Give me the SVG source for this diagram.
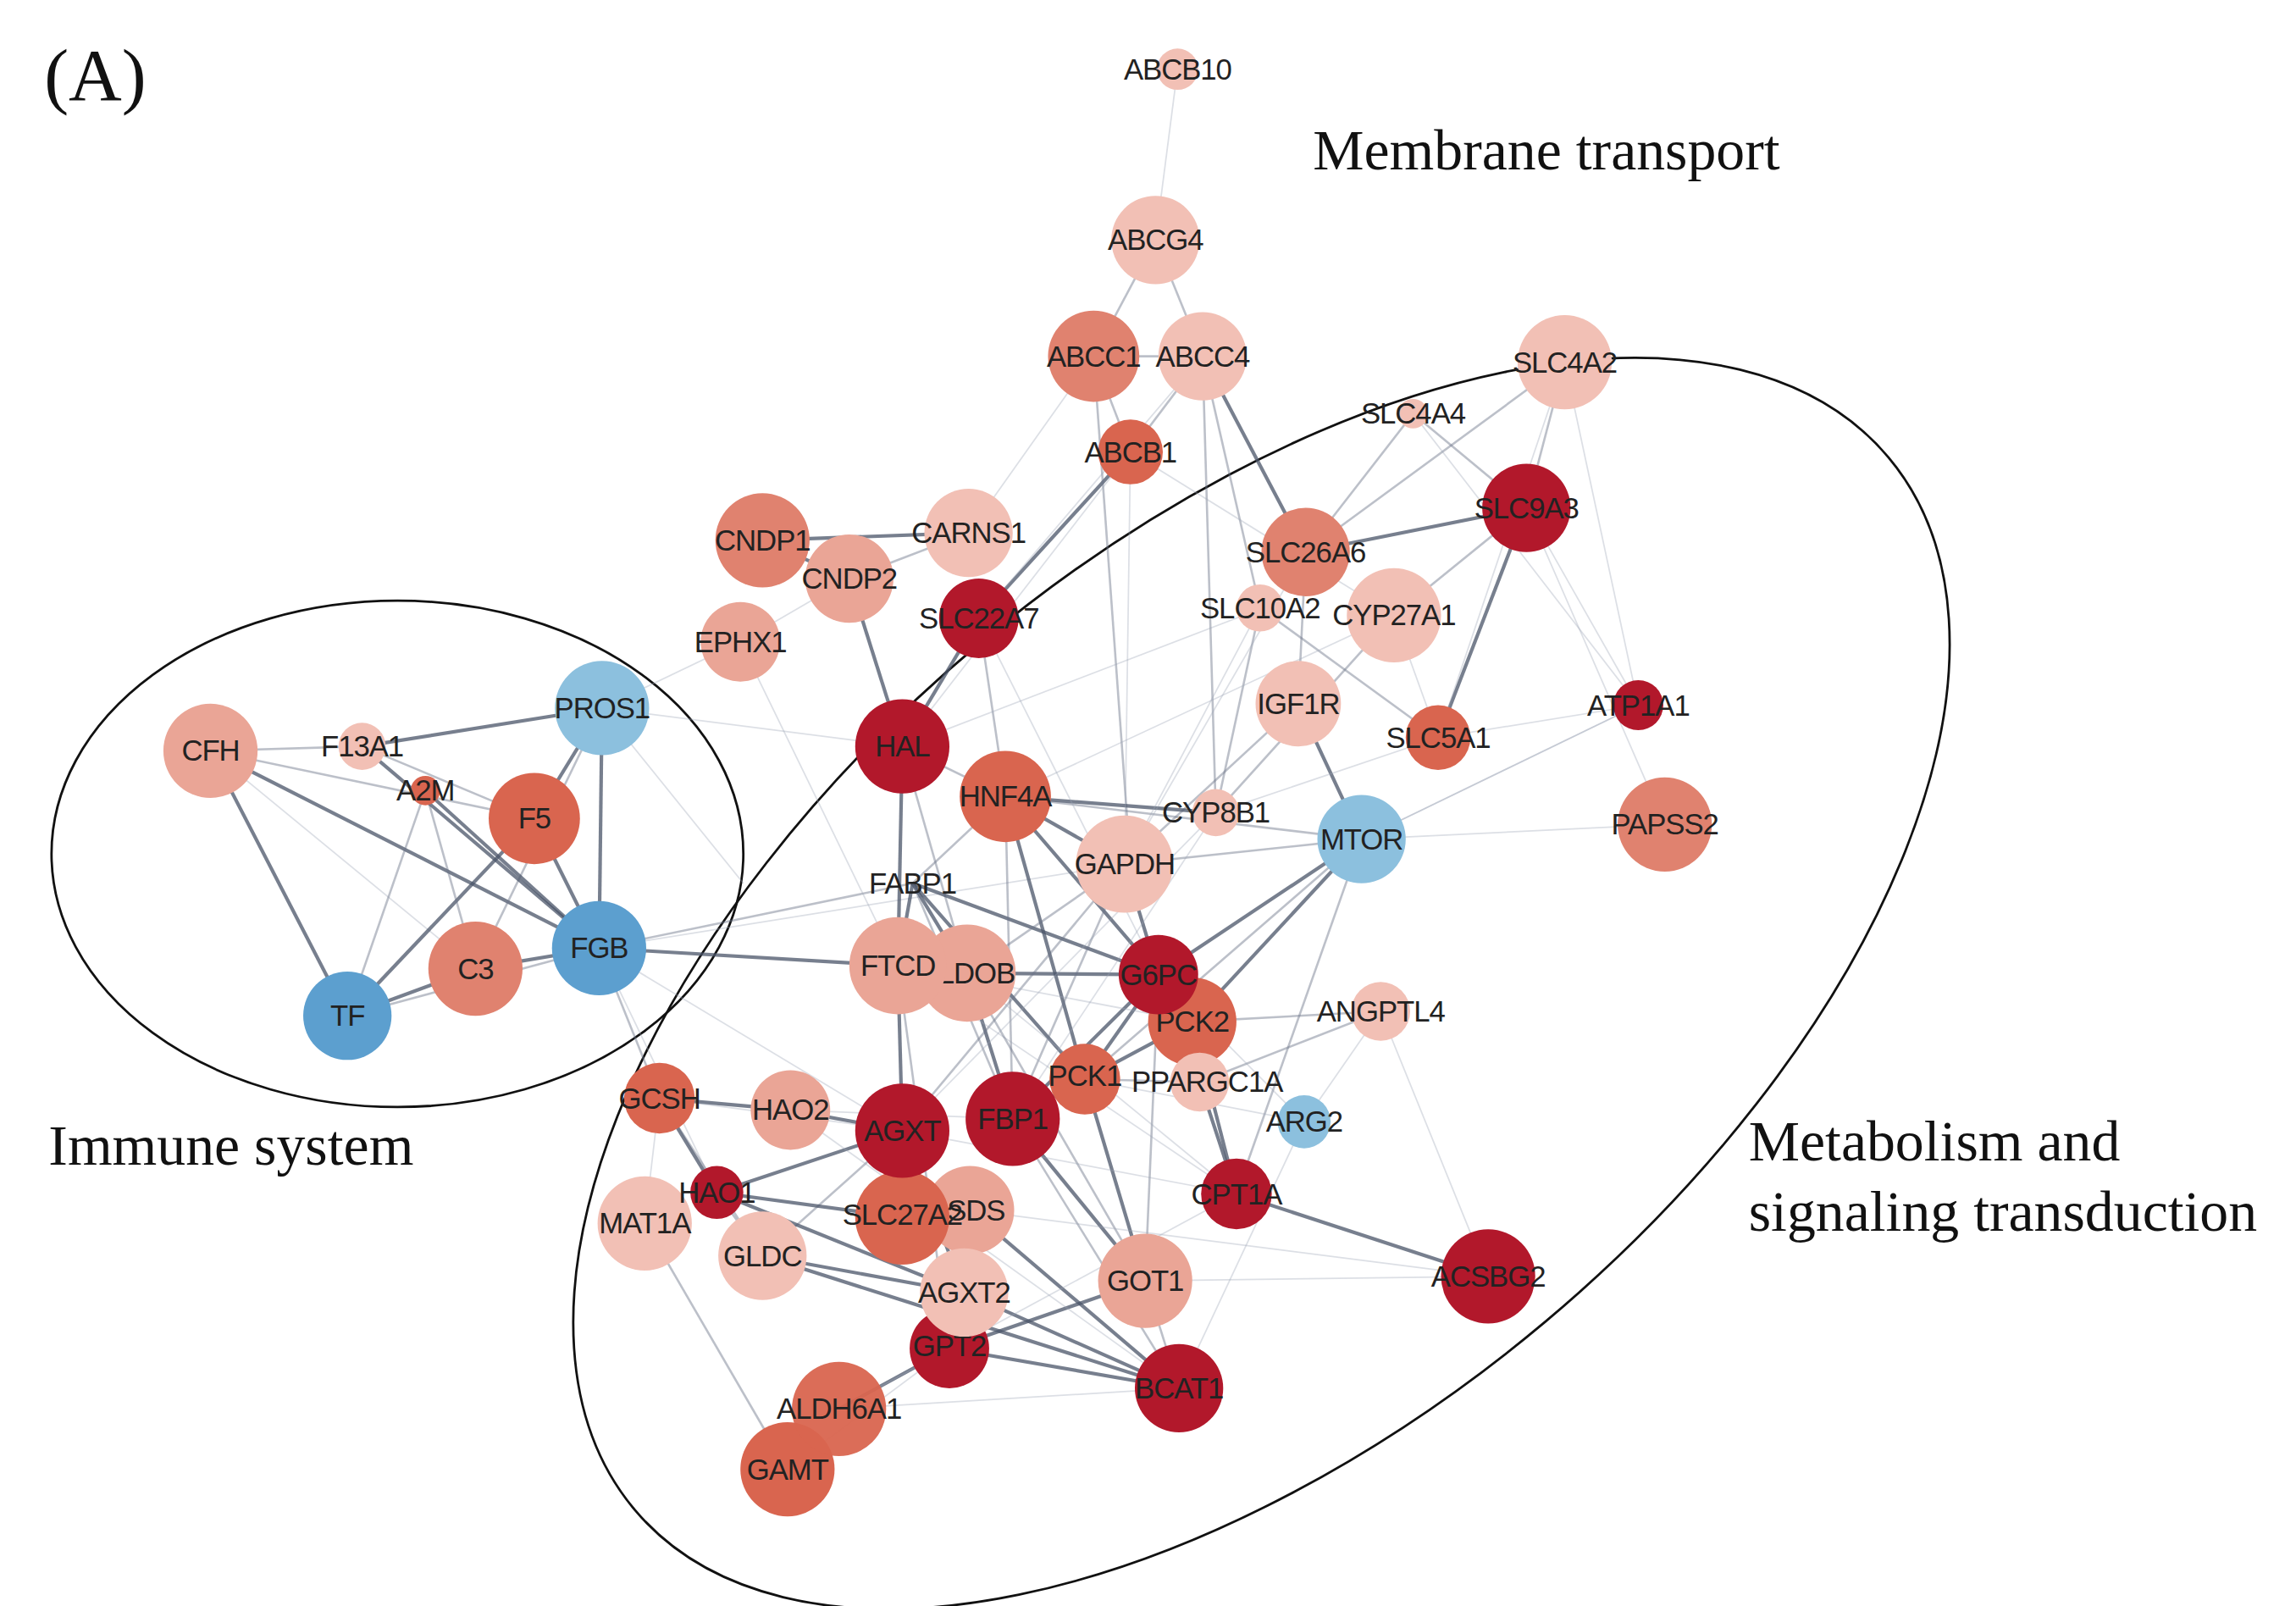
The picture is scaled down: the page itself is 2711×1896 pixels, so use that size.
<svg xmlns="http://www.w3.org/2000/svg" width="2711" height="1896" viewBox="0 0 2711 1896">
<style>
.s{stroke:#4a5468;stroke-opacity:.75;stroke-width:2.4}
.m{stroke:#6a7488;stroke-opacity:.45;stroke-width:1.5}
.l{stroke:#9aa3b5;stroke-opacity:.35;stroke-width:1}
.d{fill:#b2182b}.md{fill:#d9654f}.sa{fill:#e0826f}.lt{fill:#eaa596}.vl{fill:#f2c0b5}.bl{fill:#5c9fcf}.lb{fill:#8cc0de}
text.n{font-family:"Liberation Sans",Arial,sans-serif;font-size:20px;fill:#222;text-anchor:middle;dominant-baseline:central;letter-spacing:-0.6px}
text.t{font-family:"Liberation Serif","Times New Roman",serif;font-size:39px;fill:#111}
.e{fill:none;stroke:#111;stroke-width:1.6}
</style>
<rect width="2711" height="1896" fill="#fff"/>
<g transform="scale(1.738)">
<g id="labels">
<text class="t" x="30" y="68" style="font-size:50px">(A)</text>
<text class="t" x="892" y="115">Membrane transport</text>
<text class="t" x="33" y="791">Immune system</text>
<text class="t" x="1188" y="788">Metabolism and</text>
<text class="t" x="1188" y="836">signaling transduction</text>
</g>
<g id="clusters">
<ellipse class="e" cx="270" cy="580" rx="235" ry="172"/>
<ellipse class="e" cx="857" cy="668" rx="556" ry="300" transform="rotate(-40 857 668)"/>
</g>
<g id="connectors">
<line class="s" x1="143" y1="510" x2="407" y2="644"/>
<line class="s" x1="143" y1="510" x2="236" y2="690"/>
<line class="m" x1="143" y1="510" x2="246" y2="507"/>
<line class="m" x1="143" y1="510" x2="363" y2="556"/>
<line class="l" x1="143" y1="510" x2="323" y2="658"/>
<line class="s" x1="246" y1="507" x2="409" y2="481"/>
<line class="s" x1="409" y1="481" x2="407" y2="644"/>
<line class="s" x1="409" y1="481" x2="363" y2="556"/>
<line class="m" x1="409" y1="481" x2="323" y2="658"/>
<line class="s" x1="363" y1="556" x2="407" y2="644"/>
<line class="s" x1="289" y1="537" x2="407" y2="644"/>
<line class="s" x1="246" y1="507" x2="407" y2="644"/>
<line class="s" x1="323" y1="658" x2="407" y2="644"/>
<line class="s" x1="236" y1="690" x2="323" y2="658"/>
<line class="s" x1="236" y1="690" x2="363" y2="556"/>
<line class="m" x1="236" y1="690" x2="407" y2="644"/>
<line class="m" x1="289" y1="537" x2="236" y2="690"/>
<line class="m" x1="289" y1="537" x2="323" y2="658"/>
<line class="m" x1="246" y1="507" x2="363" y2="556"/>
<line class="l" x1="409" y1="481" x2="503" y2="436"/>
<line class="l" x1="409" y1="481" x2="613" y2="507"/>
<line class="l" x1="409" y1="481" x2="505" y2="600"/>
<line class="s" x1="407" y1="644" x2="610" y2="656"/>
<line class="m" x1="407" y1="644" x2="448" y2="746"/>
<line class="m" x1="407" y1="644" x2="620" y2="600"/>
<line class="l" x1="407" y1="644" x2="487" y2="810"/>
<line class="l" x1="407" y1="644" x2="764" y2="587"/>
<line class="l" x1="407" y1="644" x2="613" y2="768"/>
<line class="s" x1="613" y1="507" x2="665" y2="420"/>
<line class="s" x1="613" y1="507" x2="577" y2="393"/>
<line class="s" x1="518" y1="367" x2="658" y2="362"/>
<line class="s" x1="518" y1="367" x2="577" y2="393"/>
<line class="m" x1="577" y1="393" x2="658" y2="362"/>
<line class="s" x1="613" y1="507" x2="610" y2="656"/>
<line class="m" x1="613" y1="507" x2="683" y2="541"/>
<line class="m" x1="613" y1="507" x2="657" y2="661"/>
<line class="s" x1="665" y1="420" x2="768" y2="307"/>
<line class="m" x1="768" y1="307" x2="817" y2="242"/>
<line class="m" x1="768" y1="307" x2="743" y2="242"/>
<line class="m" x1="785" y1="163" x2="817" y2="242"/>
<line class="m" x1="785" y1="163" x2="743" y2="242"/>
<line class="l" x1="800" y1="47" x2="785" y2="163"/>
<line class="m" x1="743" y1="242" x2="817" y2="242"/>
<line class="s" x1="817" y1="242" x2="887" y2="375"/>
<line class="m" x1="817" y1="242" x2="856" y2="413"/>
<line class="m" x1="817" y1="242" x2="826" y2="552"/>
<line class="m" x1="743" y1="242" x2="768" y2="587"/>
<line class="l" x1="817" y1="242" x2="665" y2="420"/>
<line class="l" x1="743" y1="242" x2="658" y2="362"/>
<line class="l" x1="768" y1="307" x2="613" y2="507"/>
<line class="l" x1="768" y1="307" x2="947" y2="418"/>
<line class="m" x1="960" y1="281" x2="1037" y2="345"/>
<line class="s" x1="887" y1="375" x2="1037" y2="345"/>
<line class="s" x1="1037" y1="345" x2="977" y2="501"/>
<line class="m" x1="1063" y1="246" x2="1037" y2="345"/>
<line class="m" x1="1063" y1="246" x2="887" y2="375"/>
<line class="l" x1="1037" y1="345" x2="1113" y2="479"/>
<line class="l" x1="1063" y1="246" x2="1113" y2="479"/>
<line class="l" x1="960" y1="281" x2="1113" y2="479"/>
<line class="m" x1="960" y1="281" x2="887" y2="375"/>
<line class="l" x1="1063" y1="246" x2="977" y2="501"/>
<line class="m" x1="856" y1="413" x2="826" y2="552"/>
<line class="m" x1="947" y1="418" x2="826" y2="552"/>
<line class="m" x1="856" y1="413" x2="977" y2="501"/>
<line class="s" x1="882" y1="478" x2="925" y2="570"/>
<line class="m" x1="882" y1="478" x2="764" y2="587"/>
<line class="s" x1="683" y1="541" x2="826" y2="552"/>
<line class="m" x1="683" y1="541" x2="925" y2="570"/>
<line class="l" x1="925" y1="570" x2="1131" y2="560"/>
<line class="s" x1="925" y1="570" x2="787" y2="662"/>
<line class="s" x1="925" y1="570" x2="810" y2="694"/>
<line class="m" x1="925" y1="570" x2="840" y2="811"/>
<line class="m" x1="925" y1="570" x2="764" y2="587"/>
<line class="m" x1="925" y1="570" x2="737" y2="733"/>
<line class="l" x1="925" y1="570" x2="1113" y2="479"/>
<line class="s" x1="620" y1="600" x2="610" y2="656"/>
<line class="s" x1="620" y1="600" x2="657" y2="661"/>
<line class="s" x1="620" y1="600" x2="787" y2="662"/>
<line class="s" x1="620" y1="600" x2="737" y2="733"/>
<line class="m" x1="620" y1="600" x2="688" y2="760"/>
<line class="m" x1="620" y1="600" x2="683" y2="541"/>
<line class="s" x1="610" y1="656" x2="657" y2="661"/>
<line class="s" x1="657" y1="661" x2="787" y2="662"/>
<line class="s" x1="787" y1="662" x2="810" y2="694"/>
<line class="s" x1="787" y1="662" x2="737" y2="733"/>
<line class="s" x1="737" y1="733" x2="810" y2="694"/>
<line class="s" x1="737" y1="733" x2="688" y2="760"/>
<line class="s" x1="688" y1="760" x2="787" y2="662"/>
<line class="s" x1="688" y1="760" x2="657" y2="661"/>
<line class="m" x1="737" y1="733" x2="815" y2="735"/>
<line class="m" x1="815" y1="735" x2="938" y2="687"/>
<line class="s" x1="815" y1="735" x2="840" y2="811"/>
<line class="s" x1="840" y1="811" x2="1011" y2="867"/>
<line class="l" x1="938" y1="687" x2="886" y2="762"/>
<line class="l" x1="938" y1="687" x2="1011" y2="867"/>
<line class="m" x1="810" y1="694" x2="938" y2="687"/>
<line class="s" x1="613" y1="768" x2="537" y2="754"/>
<line class="s" x1="613" y1="768" x2="487" y2="810"/>
<line class="s" x1="613" y1="768" x2="655" y2="878"/>
<line class="s" x1="613" y1="768" x2="613" y2="827"/>
<line class="s" x1="613" y1="768" x2="610" y2="656"/>
<line class="m" x1="613" y1="768" x2="518" y2="853"/>
<line class="s" x1="537" y1="754" x2="448" y2="746"/>
<line class="s" x1="448" y1="746" x2="487" y2="810"/>
<line class="m" x1="448" y1="746" x2="518" y2="853"/>
<line class="s" x1="487" y1="810" x2="613" y2="827"/>
<line class="m" x1="487" y1="810" x2="518" y2="853"/>
<line class="s" x1="487" y1="810" x2="655" y2="878"/>
<line class="s" x1="518" y1="853" x2="655" y2="878"/>
<line class="s" x1="518" y1="853" x2="801" y2="943"/>
<line class="s" x1="645" y1="916" x2="778" y2="870"/>
<line class="s" x1="645" y1="916" x2="801" y2="943"/>
<line class="s" x1="645" y1="916" x2="570" y2="957"/>
<line class="s" x1="655" y1="878" x2="801" y2="943"/>
<line class="m" x1="778" y1="870" x2="801" y2="943"/>
<line class="s" x1="778" y1="870" x2="737" y2="733"/>
<line class="s" x1="778" y1="870" x2="688" y2="760"/>
<line class="m" x1="778" y1="870" x2="787" y2="662"/>
<line class="s" x1="801" y1="943" x2="659" y2="822"/>
<line class="m" x1="801" y1="943" x2="688" y2="760"/>
<line class="m" x1="438" y1="831" x2="535" y2="998"/>
<line class="l" x1="438" y1="831" x2="448" y2="746"/>
<line class="s" x1="840" y1="811" x2="810" y2="694"/>
<line class="s" x1="683" y1="541" x2="764" y2="587"/>
<line class="s" x1="683" y1="541" x2="787" y2="662"/>
<line class="s" x1="683" y1="541" x2="737" y2="733"/>
<line class="m" x1="683" y1="541" x2="688" y2="760"/>
<line class="s" x1="764" y1="587" x2="787" y2="662"/>
<line class="m" x1="764" y1="587" x2="657" y2="661"/>
<line class="m" x1="764" y1="587" x2="688" y2="760"/>
<line class="m" x1="764" y1="587" x2="613" y2="768"/>
<line class="l" x1="503" y1="436" x2="577" y2="393"/>
<line class="l" x1="503" y1="436" x2="610" y2="656"/>
<line class="m" x1="665" y1="420" x2="683" y2="541"/>
<line class="l" x1="768" y1="307" x2="764" y2="587"/>
<line class="m" x1="887" y1="375" x2="882" y2="478"/>
<line class="l" x1="887" y1="375" x2="764" y2="587"/>
<line class="m" x1="947" y1="418" x2="1037" y2="345"/>
<line class="l" x1="947" y1="418" x2="683" y2="541"/>
<line class="l" x1="947" y1="418" x2="977" y2="501"/>
<line class="l" x1="977" y1="501" x2="1113" y2="479"/>
<line class="l" x1="977" y1="501" x2="826" y2="552"/>
<line class="l" x1="1113" y1="479" x2="925" y2="570"/>
<line class="l" x1="610" y1="656" x2="810" y2="694"/>
<line class="l" x1="610" y1="656" x2="840" y2="811"/>
<line class="l" x1="657" y1="661" x2="840" y2="811"/>
<line class="m" x1="657" y1="661" x2="778" y2="870"/>
<line class="m" x1="610" y1="656" x2="645" y2="916"/>
<line class="l" x1="537" y1="754" x2="688" y2="760"/>
<line class="l" x1="537" y1="754" x2="801" y2="943"/>
<line class="l" x1="448" y1="746" x2="613" y2="768"/>
<line class="l" x1="570" y1="957" x2="801" y2="943"/>
<line class="l" x1="570" y1="957" x2="840" y2="811"/>
<line class="l" x1="535" y1="998" x2="645" y2="916"/>
<line class="l" x1="659" y1="822" x2="1011" y2="867"/>
<line class="l" x1="778" y1="870" x2="1011" y2="867"/>
<line class="l" x1="886" y1="762" x2="801" y2="943"/>
<line class="l" x1="886" y1="762" x2="787" y2="662"/>
<line class="l" x1="886" y1="762" x2="737" y2="733"/>
<line class="l" x1="840" y1="811" x2="613" y2="768"/>
<line class="l" x1="826" y1="552" x2="688" y2="760"/>
<line class="l" x1="826" y1="552" x2="613" y2="768"/>
<line class="l" x1="856" y1="413" x2="764" y2="587"/>
<line class="l" x1="665" y1="420" x2="787" y2="662"/>
<line class="l" x1="858" y1="413" x2="613" y2="507"/>
<line class="l" x1="1131" y1="560" x2="1037" y2="345"/>
</g>
<g id="ABCB10"><circle class="vl" cx="800" cy="47" r="14"/><text class="n" x="800" y="47">ABCB10</text></g>
<g id="ABCG4"><circle class="vl" cx="785" cy="163" r="30"/><text class="n" x="785" y="163">ABCG4</text></g>
<g id="ABCC1"><circle class="sa" cx="743" cy="242" r="31"/><text class="n" x="743" y="242">ABCC1</text></g>
<g id="ABCC4"><circle class="vl" cx="817" cy="242" r="30"/><text class="n" x="817" y="242">ABCC4</text></g>
<g id="SLC4A2"><circle class="vl" cx="1063" cy="246" r="32"/><text class="n" x="1063" y="246">SLC4A2</text></g>
<g id="SLC4A4"><circle class="vl" cx="960" cy="281" r="10"/><text class="n" x="960" y="281">SLC4A4</text></g>
<g id="ABCB1"><circle class="md" cx="768" cy="307" r="22"/><text class="n" x="768" y="307">ABCB1</text></g>
<g id="SLC9A3"><circle class="d" cx="1037" cy="345" r="30"/><text class="n" x="1037" y="345">SLC9A3</text></g>
<g id="CNDP1"><circle class="sa" cx="518" cy="367" r="32"/><text class="n" x="518" y="367">CNDP1</text></g>
<g id="CARNS1"><circle class="vl" cx="658" cy="362" r="30"/><text class="n" x="658" y="362">CARNS1</text></g>
<g id="SLC26A6"><circle class="sa" cx="887" cy="375" r="30"/><text class="n" x="887" y="375">SLC26A6</text></g>
<g id="CNDP2"><circle class="lt" cx="577" cy="393" r="30"/><text class="n" x="577" y="393">CNDP2</text></g>
<g id="SLC10A2"><circle class="vl" cx="856" cy="413" r="16"/><text class="n" x="856" y="413">SLC10A2</text></g>
<g id="CYP27A1"><circle class="vl" cx="947" cy="418" r="32"/><text class="n" x="947" y="418">CYP27A1</text></g>
<g id="SLC22A7"><circle class="d" cx="665" cy="420" r="27"/><text class="n" x="665" y="420">SLC22A7</text></g>
<g id="EPHX1"><circle class="lt" cx="503" cy="436" r="27"/><text class="n" x="503" y="436">EPHX1</text></g>
<g id="CFH"><circle class="lt" cx="143" cy="510" r="32"/><text class="n" x="143" y="510">CFH</text></g>
<g id="F13A1"><circle class="vl" cx="246" cy="507" r="16"/><text class="n" x="246" y="507">F13A1</text></g>
<g id="PROS1"><circle class="lb" cx="409" cy="481" r="32"/><text class="n" x="409" y="481">PROS1</text></g>
<g id="A2M"><circle class="md" cx="289" cy="537" r="10"/><text class="n" x="289" y="537">A2M</text></g>
<g id="F5"><circle class="md" cx="363" cy="556" r="31"/><text class="n" x="363" y="556">F5</text></g>
<g id="HAL"><circle class="d" cx="613" cy="507" r="32"/><text class="n" x="613" y="507">HAL</text></g>
<g id="HNF4A"><circle class="md" cx="683" cy="541" r="31"/><text class="n" x="683" y="541">HNF4A</text></g>
<g id="IGF1R"><circle class="vl" cx="882" cy="478" r="29"/><text class="n" x="882" y="478">IGF1R</text></g>
<g id="SLC5A1"><circle class="md" cx="977" cy="501" r="22"/><text class="n" x="977" y="501">SLC5A1</text></g>
<g id="ATP1A1"><circle class="d" cx="1113" cy="479" r="17"/><text class="n" x="1113" y="479">ATP1A1</text></g>
<g id="CYP8B1"><circle class="vl" cx="826" cy="552" r="16"/><text class="n" x="826" y="552">CYP8B1</text></g>
<g id="MTOR"><circle class="lb" cx="925" cy="570" r="30"/><text class="n" x="925" y="570">MTOR</text></g>
<g id="PAPSS2"><circle class="sa" cx="1131" cy="560" r="32"/><text class="n" x="1131" y="560">PAPSS2</text></g>
<g id="GAPDH"><circle class="vl" cx="764" cy="587" r="33"/><text class="n" x="764" y="587">GAPDH</text></g>
<g id="FABP1"><text class="n" x="620" y="600">FABP1</text></g>
<g id="FGB"><circle class="bl" cx="407" cy="644" r="32"/><text class="n" x="407" y="644">FGB</text></g>
<g id="C3"><circle class="sa" cx="323" cy="658" r="32"/><text class="n" x="323" y="658">C3</text></g>
<g id="TF"><circle class="bl" cx="236" cy="690" r="30"/><text class="n" x="236" y="690">TF</text></g>
<g id="ALDOB"><circle class="lt" cx="657" cy="661" r="33"/><text class="n" x="657" y="661">ALDOB</text></g>
<g id="FTCD"><circle class="lt" cx="610" cy="656" r="33"/><text class="n" x="610" y="656">FTCD</text></g>
<g id="PCK2"><circle class="md" cx="810" cy="694" r="30"/><text class="n" x="810" y="694">PCK2</text></g>
<g id="G6PC"><circle class="d" cx="787" cy="662" r="27"/><text class="n" x="787" y="662">G6PC</text></g>
<g id="ANGPTL4"><circle class="vl" cx="938" cy="687" r="20"/><text class="n" x="938" y="687">ANGPTL4</text></g>
<g id="PPARGC1A"><circle class="vl" cx="815" cy="735" r="20"/><text class="n" x="820" y="735">PPARGC1A</text></g>
<g id="PCK1"><circle class="md" cx="737" cy="733" r="24"/><text class="n" x="737" y="731">PCK1</text></g>
<g id="ARG2"><circle class="lb" cx="886" cy="762" r="18"/><text class="n" x="886" y="762">ARG2</text></g>
<g id="GCSH"><circle class="md" cx="448" cy="746" r="24"/><text class="n" x="448" y="746">GCSH</text></g>
<g id="HAO2"><circle class="lt" cx="537" cy="754" r="27"/><text class="n" x="537" y="754">HAO2</text></g>
<g id="FBP1"><circle class="d" cx="688" cy="760" r="32"/><text class="n" x="688" y="760">FBP1</text></g>
<g id="CPT1A"><circle class="d" cx="840" cy="811" r="24"/><text class="n" x="840" y="811">CPT1A</text></g>
<g id="MAT1A"><circle class="vl" cx="438" cy="831" r="32"/><text class="n" x="438" y="831">MAT1A</text></g>
<g id="SDS"><circle class="lt" cx="659" cy="822" r="30"/><text class="n" x="663" y="822">SDS</text></g>
<g id="SLC27A2"><circle class="md" cx="613" cy="827" r="32"/><text class="n" x="613" y="825">SLC27A2</text></g>
<g id="AGXT"><circle class="d" cx="613" cy="768" r="32"/><text class="n" x="613" y="768">AGXT</text></g>
<g id="HAO1"><circle class="d" cx="487" cy="810" r="18"/><text class="n" x="487" y="810">HAO1</text></g>
<g id="GLDC"><circle class="vl" cx="518" cy="853" r="30"/><text class="n" x="518" y="853">GLDC</text></g>
<g id="GOT1"><circle class="lt" cx="778" cy="870" r="32"/><text class="n" x="778" y="870">GOT1</text></g>
<g id="ACSBG2"><circle class="d" cx="1011" cy="867" r="32"/><text class="n" x="1011" y="867">ACSBG2</text></g>
<g id="GPT2"><circle class="d" cx="645" cy="916" r="27"/><text class="n" x="645" y="914">GPT2</text></g>
<g id="AGXT2"><circle class="vl" cx="655" cy="878" r="30"/><text class="n" x="655" y="878">AGXT2</text></g>
<g id="BCAT1"><circle class="d" cx="801" cy="943" r="30"/><text class="n" x="801" y="943">BCAT1</text></g>
<g id="GAMT"><circle class="md" cx="535" cy="998" r="32"/><text class="n" x="535" y="998">GAMT</text></g>
<g id="ALDH6A1"><circle class="md" cx="570" cy="957" r="32" fill-opacity=".95"/><text class="n" x="570" y="957">ALDH6A1</text></g>
</g>
</svg>
